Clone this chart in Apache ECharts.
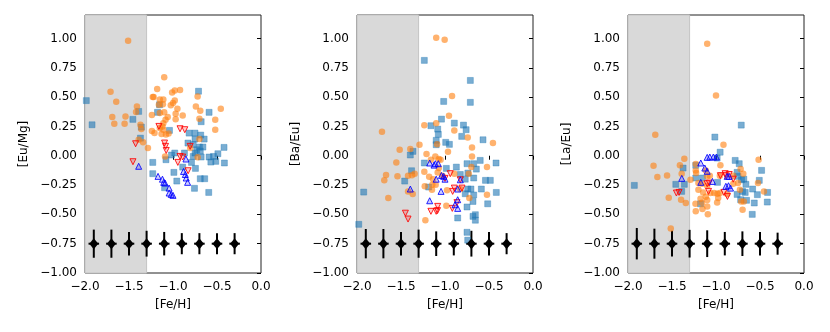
<!DOCTYPE html>
<html>
<head>
<meta charset="utf-8">
<script src="https://cdn.jsdelivr.net/npm/echarts@6/dist/echarts.min.js"></script>
<style>
  html, body { margin: 0; padding: 0; background: #fff; }
  #chart { width: 830px; height: 332px; }
</style>
</head>
<body>
<div id="chart"></div>
<script>
// panel titles (y axis names)
const yNames = ['[Eu/Mg]', '[Ba/Eu]', '[La/Eu]'];
const xName = '[Fe/H]';
const xTicks = [-2, -1.5, -1, -0.5, 0];
const yTicks = [-1, -0.75, -0.5, -0.25, 0, 0.25, 0.5, 0.75, 1];

// typical error bars
const errX = [-1.9, -1.7, -1.5, -1.3, -1.1, -0.9, -0.7, -0.5, -0.3];
const errLevel = -0.75;
const errEuMg = [0.12, 0.12, 0.10, 0.11, 0.10, 0.09, 0.09, 0.09, 0.09];
const errBaEu = [0.125, 0.125, 0.10, 0.12, 0.105, 0.10, 0.11, 0.10, 0.09];
const errLaEu = [0.134, 0.128, 0.11, 0.118, 0.114, 0.10, 0.105, 0.10, 0.094];

// [Eu/Mg]
const euMgCirc = [
  [-1.51, 0.98], [-1.10, 0.67], [-1.18, 0.57], [-1.71, 0.545], [-1.645, 0.46], [-1.23, 0.50],
  [-1.22, 0.50], [-1.15, 0.48], [-1.11, 0.48], [-1.01, 0.54], [-0.98, 0.557], [-0.92, 0.56],
  [-0.98, 0.47], [-1.0, 0.45], [-1.025, 0.43], [-0.95, 0.40], [-1.16, 0.435], [-1.115, 0.44],
  [-1.10, 0.37], [-1.24, 0.347], [-1.15, 0.364], [-1.06, 0.33], [-1.085, 0.307], [-0.97, 0.358],
  [-0.89, 0.344], [-0.97, 0.31], [-1.11, 0.278], [-1.12, 0.25], [-1.11, 0.222], [-1.15, 0.236],
  [-1.24, 0.21], [-1.21, 0.193], [-1.13, 0.185], [-1.08, 0.18], [-1.05, 0.19], [-1.41, 0.42],
  [-1.42, 0.372], [-1.54, 0.335], [-1.69, 0.33], [-1.667, 0.273], [-1.55, 0.273], [-1.37, 0.264],
  [-1.36, 0.227], [-1.39, 0.136], [-1.34, 0.114], [-1.285, 0.065], [-1.09, -0.006], [-0.72, 0.506],
  [-0.74, 0.42], [-0.69, 0.384], [-0.70, 0.315], [-0.52, 0.307], [-0.457, 0.40], [-0.52, 0.222],
  [-0.70, 0.142], [-0.805, 0.065], [-0.72, -0.014]
];
const euMgSq = [
  [-1.985, 0.47], [-1.92, 0.264], [-0.71, 0.55], [-0.59, 0.37], [-0.68, 0.29], [-1.153, 0.435],
  [-1.176, 0.37], [-1.39, 0.378], [-1.456, 0.31], [-1.36, 0.244], [-1.04, 0.216], [-1.37, 0.15],
  [-0.817, 0.193], [-0.75, 0.193], [-0.685, 0.176], [-0.646, 0.142], [-0.75, 0.142], [-0.83, 0.108],
  [-0.77, 0.095], [-0.70, 0.074], [-0.66, 0.074], [-0.73, 0.051], [-0.69, 0.04], [-0.75, 0.023],
  [-0.42, 0.071], [-0.49, 0.017], [-0.54, -0.006], [-0.59, -0.011], [-0.68, -0.011], [-0.77, -0.006],
  [-0.514, -0.048], [-0.57, -0.054], [-0.416, -0.062], [-0.79, -0.057], [-0.745, -0.108], [-0.87, 0.023],
  [-0.98, 0.023], [-1.017, 0.006], [-1.08, -0.034], [-1.23, -0.057], [-0.89, -0.097], [-0.99, -0.142],
  [-1.23, -0.153], [-0.957, -0.216], [-1.096, -0.273], [-0.756, -0.278], [-0.69, -0.196], [-0.64, -0.196],
  [-0.594, -0.313]
];
const euMgDown = [
  [-1.16, 0.25], [-0.92, 0.23], [-0.866, 0.222], [-1.425, 0.102], [-1.455, -0.051], [-1.096, 0.108],
  [-1.085, 0.08], [-1.077, 0.045], [-0.805, 0.08], [-0.92, -0.006], [-0.89, -0.011], [-0.945, -0.057],
  [-0.828, -0.128]
];
const euMgUp = [
  [-1.39, -0.09], [-0.853, -0.028], [-0.88, -0.134], [-0.86, -0.16], [-0.85, -0.19], [-0.834, -0.227],
  [-1.17, -0.176], [-1.12, -0.2], [-1.105, -0.227], [-1.09, -0.233], [-1.044, -0.276], [-1.044, -0.318],
  [-1.02, -0.33], [-1.0, -0.338]
];

// [Ba/Eu]
const baEuCirc = [
  [-1.10, 1.006], [-1.004, 0.989], [-0.92, 0.51], [-0.955, 0.34], [-1.235, 0.26], [-1.10, 0.278],
  [-0.894, 0.216], [-0.742, 0.156], [-1.716, 0.205], [-1.29, 0.094], [-1.09, 0.097], [-1.515, 0.051],
  [-1.394, 0.057], [-0.966, 0.034], [-0.693, 0.071], [-0.455, 0.108], [-1.21, 0.014], [-1.11, -0.006],
  [-1.16, -0.034], [-1.07, -0.028], [-1.05, -0.034], [-0.693, -0.006], [-1.553, -0.057], [-0.70, -0.097],
  [-0.523, -0.097], [-1.67, -0.165], [-1.69, -0.21], [-1.54, -0.176], [-1.42, -0.17], [-1.375, -0.167],
  [-1.345, -0.153], [-1.235, -0.136], [-1.18, -0.18], [-1.136, -0.2], [-1.083, -0.142], [-1.07, -0.105],
  [-1.03, -0.17], [-0.894, -0.153], [-0.73, -0.153], [-1.23, -0.26], [-1.144, -0.247], [-1.106, -0.247],
  [-1.148, -0.29], [-0.977, -0.295], [-1.42, -0.304], [-1.367, -0.327], [-1.644, -0.36], [-0.724, -0.36],
  [-0.523, -0.332], [-0.985, -0.426], [-1.223, -0.55], [-0.826, -0.284]
];
const baEuSq = [
  [-1.235, 0.813], [-0.712, 0.642], [-1.015, 0.463], [-0.712, 0.455], [-1.04, 0.312], [-0.894, 0.278],
  [-1.16, 0.256], [-0.79, 0.261], [-0.76, 0.222], [-1.083, 0.227], [-1.076, 0.182], [-0.81, 0.165],
  [-0.568, 0.136], [-1.1, 0.131], [-0.992, 0.114], [-0.95, 0.097], [-1.1, 0.094], [-1.364, 0.037],
  [-1.394, 0.006], [-1.235, -0.062], [-0.75, -0.068], [-0.674, -0.068], [-0.42, -0.062], [-0.6, -0.04],
  [-0.985, -0.108], [-0.871, -0.097], [-0.644, -0.114], [-0.826, -0.16], [-0.74, -0.148], [-1.38, -0.128],
  [-1.458, -0.216], [-0.77, -0.2], [-0.674, -0.19], [-0.54, -0.21], [-0.485, -0.21], [-1.186, -0.267],
  [-0.742, -0.284], [-0.705, -0.284], [-0.587, -0.284], [-0.77, -0.324], [-0.674, -0.335], [-0.417, -0.313],
  [-0.682, -0.39], [-0.515, -0.41], [-0.75, -0.437], [-0.655, -0.503], [-0.682, -0.517], [-0.655, -0.55],
  [-0.856, -0.531], [-0.75, -0.653], [-0.742, -0.72], [-1.924, -0.31], [-1.98, -0.585]
];
const baEuDown = [
  [-1.45, -0.49], [-1.42, -0.54], [-1.16, -0.474], [-1.083, -0.432], [-1.1, -0.474], [-1.085, -0.468],
  [-0.913, -0.304], [-0.94, -0.153], [-0.807, -0.276], [-0.894, -0.276], [-0.864, -0.4], [-0.917, -0.449],
  [-0.826, -0.205], [-1.0, -0.193]
];
const baEuUp = [
  [-1.174, -0.062], [-1.11, -0.068], [-1.076, -0.068], [-1.125, -0.08], [-1.394, -0.284], [-1.1, -0.2],
  [-1.04, -0.168], [-1.015, -0.176], [-1.0, -0.2], [-1.045, -0.304], [-0.856, -0.284], [-0.826, -0.205],
  [-1.174, -0.384], [-0.856, -0.375], [-0.886, -0.418], [-0.856, -0.449]
];

// [La/Eu]
const laEuCirc = [
  [-1.10, 0.955], [-1.0, 0.514], [-1.69, 0.179], [-0.915, 0.094], [-1.36, -0.026], [-1.71, -0.085],
  [-1.666, -0.182], [-1.556, -0.168], [-1.41, -0.082], [-1.39, -0.153], [-1.23, -0.071], [-1.23, -0.125],
  [-1.29, -0.205], [-1.537, -0.358], [-1.397, -0.375], [-1.343, -0.403], [-1.514, -0.62], [-0.95, -0.082],
  [-1.116, -0.125], [-1.1, -0.176], [-1.07, -0.17], [-0.956, -0.17], [-1.2, -0.233], [-1.158, -0.239],
  [-1.2, -0.29], [-1.146, -0.313], [-1.1, -0.256], [-1.063, -0.318], [-1.02, -0.318], [-0.983, -0.324],
  [-0.956, -0.318], [-0.975, -0.36], [-0.987, -0.398], [-1.116, -0.35], [-1.1, -0.378], [-1.176, -0.366],
  [-1.16, -0.4], [-1.233, -0.41], [-1.154, -0.455], [-1.1, -0.432], [-1.23, -0.474], [-1.093, -0.5],
  [-1.226, -0.148], [-0.873, -0.327], [-0.804, -0.17], [-0.75, -0.233], [-0.72, -0.114], [-0.69, -0.153],
  [-0.804, -0.239], [-0.714, -0.39], [-0.684, -0.39], [-0.698, -0.46], [-0.516, -0.034], [-0.523, -0.233],
  [-0.455, -0.304], [-0.728, -0.29]
];
const laEuSq = [
  [-0.713, 0.261], [-1.013, 0.159], [-0.953, 0.03], [-0.987, -0.02], [-0.782, -0.04], [-0.736, -0.068],
  [-0.482, -0.125], [-1.374, -0.105], [-1.23, -0.082], [-1.928, -0.253], [-1.457, -0.244], [-1.36, -0.244],
  [-1.39, -0.304], [-1.23, -0.19], [-1.154, -0.19], [-0.983, -0.227], [-1.176, -0.41], [-0.76, -0.142],
  [-0.75, -0.176], [-0.71, -0.205], [-0.684, -0.2], [-0.66, -0.244], [-0.76, -0.33], [-0.698, -0.304],
  [-0.668, -0.313], [-0.72, -0.375], [-0.653, -0.38], [-0.584, -0.284], [-0.53, -0.332], [-0.508, -0.21],
  [-0.414, -0.313], [-0.417, -0.395], [-0.565, -0.403], [-0.588, -0.5]
];
const laEuDown = [
  [-1.45, -0.318], [-1.42, -0.313], [-1.1, -0.239], [-1.078, -0.233], [-1.085, -0.304], [-0.95, -0.17],
  [-0.896, -0.153], [-0.89, -0.17], [-0.85, -0.16], [-0.804, -0.2], [-0.91, -0.313], [-0.87, -0.347]
];
const laEuUp = [
  [-1.173, -0.062], [-1.1, -0.014], [-1.07, -0.011], [-1.03, -0.011], [-0.995, -0.011], [-1.127, -0.105],
  [-1.1, -0.133], [-1.389, -0.193], [-1.173, -0.227], [-1.04, -0.219], [-0.873, -0.176], [-0.85, -0.176],
  [-0.888, -0.261], [-0.858, -0.256], [-0.835, -0.276]
];

const panels = [
  { circ: euMgCirc, sq: euMgSq, down: euMgDown, up: euMgUp, err: errEuMg },
  { circ: baEuCirc, sq: baEuSq, down: baEuDown, up: baEuUp, err: errBaEu },
  { circ: laEuCirc, sq: laEuSq, down: laEuDown, up: laEuUp, err: errLaEu }
];
const gridLefts = [85, 357, 628];
const xErr = 0.06;
const font = 'DejaVu Sans';

const minusFmt = d => v => v.toFixed(d).replace('-', '\u2212');

const grids = [], xAxes = [], yAxes = [], series = [];

panels.forEach((p, i) => {
  grids.push({
    left: gridLefts[i], top: 15, width: 176, height: 258,
    show: true, borderColor: '#222', borderWidth: 1, backgroundColor: 'transparent'
  });
  xAxes.push({
    gridIndex: i, type: 'value', min: -2, max: 0,
    name: xName, nameLocation: 'middle', nameGap: 26,
    nameTextStyle: { fontFamily: font, fontSize: 12, color: '#000' },
    axisLine: { show: false },
    axisTick: { show: true, length: 4, lineStyle: { color: '#000' }, customValues: xTicks },
    axisLabel: { fontFamily: font, fontSize: 12, color: '#000', margin: 8, customValues: xTicks, formatter: minusFmt(1) },
    splitLine: { show: false }
  });
  yAxes.push({
    gridIndex: i, type: 'value', min: -1, max: 1.2,
    name: yNames[i], nameLocation: 'middle', nameGap: 55, nameRotate: 90,
    nameTextStyle: { fontFamily: font, fontSize: 12, color: '#000' },
    axisLine: { show: false },
    axisTick: { show: true, length: 4, lineStyle: { color: '#000' }, customValues: yTicks },
    axisLabel: { fontFamily: font, fontSize: 12, color: '#000', margin: 8, customValues: yTicks, formatter: minusFmt(2) },
    splitLine: { show: false }
  });

  // shaded metal-poor region
  series.push({
    type: 'scatter', xAxisIndex: i, yAxisIndex: i, data: [], silent: true,
    markArea: {
      silent: true,
      itemStyle: { color: '#d9d9d9', borderColor: '#c4c4c4', borderWidth: 1 },
      data: [[{ xAxis: -2 }, { xAxis: -1.3 }]]
    }
  });
  series.push({
    type: 'scatter', xAxisIndex: i, yAxisIndex: i, data: p.sq, symbol: 'rect', symbolSize: 6,
    itemStyle: { color: 'rgba(31,119,180,0.6)', borderColor: 'rgba(31,119,180,0.35)', borderWidth: 1, opacity: 1 }
  });
  series.push({
    type: 'scatter', xAxisIndex: i, yAxisIndex: i, data: p.circ, symbol: 'circle', symbolSize: 6.5,
    itemStyle: { color: 'rgba(255,127,14,0.6)', opacity: 1 }
  });
  series.push({
    type: 'scatter', xAxisIndex: i, yAxisIndex: i, data: p.down, symbol: 'triangle', symbolRotate: 180, symbolSize: 6,
    itemStyle: { color: 'rgba(255,0,0,0.2)', borderColor: 'rgba(255,0,0,0.85)', borderWidth: 1, opacity: 1 }
  });
  series.push({
    type: 'scatter', xAxisIndex: i, yAxisIndex: i, data: p.up, symbol: 'triangle', symbolSize: 6,
    itemStyle: { color: 'rgba(0,0,255,0.2)', borderColor: 'rgba(0,0,255,0.85)', borderWidth: 1, opacity: 1 }
  });

  // error bars
  const errData = errX.map((x, k) => [x, errLevel, p.err[k]]);
  series.push({
    type: 'custom', xAxisIndex: i, yAxisIndex: i, data: errData, silent: true,
    renderItem: (params, api) => {
      const x = api.value(0), y = api.value(1), e = api.value(2);
      const top = api.coord([x, y + e]);
      const bot = api.coord([x, y - e]);
      const l = api.coord([x - xErr, y]);
      const r = api.coord([x + xErr, y]);
      return {
        type: 'group',
        children: [
          { type: 'line', shape: { x1: top[0], y1: top[1], x2: bot[0], y2: bot[1] }, style: { stroke: '#000', lineWidth: 2 } },
          { type: 'line', shape: { x1: l[0], y1: l[1], x2: r[0], y2: r[1] }, style: { stroke: '#000', lineWidth: 2 } }
        ]
      };
    }
  });
  series.push({
    type: 'scatter', xAxisIndex: i, yAxisIndex: i, data: errData.map(d => [d[0], d[1]]),
    symbol: 'diamond', symbolSize: [9, 11], silent: true,
    itemStyle: { color: '#000', opacity: 1 }
  });
});

const chart = echarts.init(document.getElementById('chart'), null, { renderer: 'canvas' });
chart.setOption({
  animation: false,
  backgroundColor: '#fff',
  grid: grids,
  xAxis: xAxes,
  yAxis: yAxes,
  series: series
});
</script>
</body>
</html>
